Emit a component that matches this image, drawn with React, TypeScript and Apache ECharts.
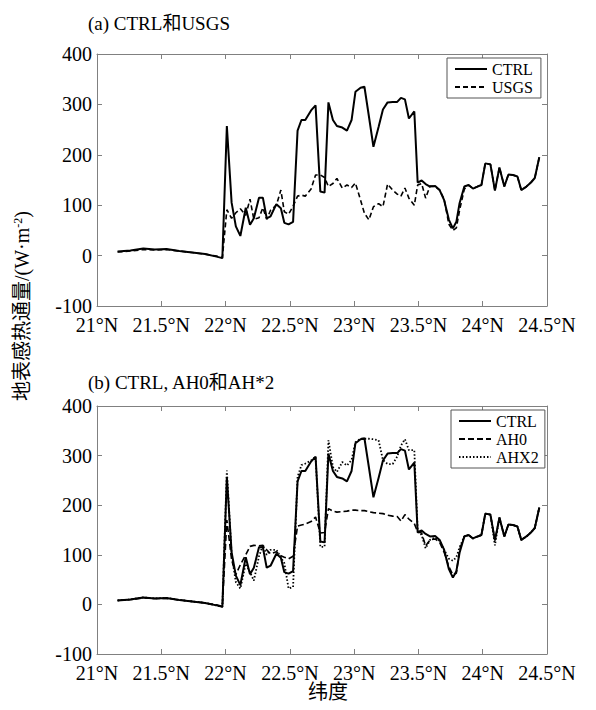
import React, { useEffect, useRef } from "react";
import * as echarts from "echarts";

// Latitude (°N) of each sample point along the transect
const lat = [
  21.16, 21.26, 21.36, 21.45, 21.54, 21.64, 21.74, 21.84, 21.93, 21.975,
  22.01, 22.047, 22.08, 22.115, 22.157, 22.19, 22.22, 22.26, 22.29, 22.32,
  22.35, 22.395, 22.43, 22.457, 22.49, 22.525, 22.56, 22.59, 22.62, 22.665,
  22.7, 22.737, 22.77, 22.8, 22.835, 22.866, 22.908, 22.944, 22.98, 23.01,
  23.05, 23.08, 23.115, 23.15, 23.19, 23.224, 23.26, 23.3, 23.335, 23.364,
  23.395, 23.426, 23.468, 23.494, 23.525, 23.556, 23.59, 23.63, 23.665, 23.7,
  23.737, 23.768, 23.795, 23.82, 23.857, 23.89, 23.924, 23.96, 23.99, 24.02,
  24.06, 24.095, 24.13, 24.168, 24.2, 24.235, 24.27, 24.3, 24.34, 24.375,
  24.405, 24.44,
];

const ctrl = [
  8, 10, 14, 12, 13, 9, 6, 3, -2, -5,
  257, 105, 58, 39, 95, 61, 74, 115, 115, 74,
  78, 102, 94, 65, 62, 67, 248, 269, 269, 288,
  298, 127, 125, 304, 269, 257, 254, 248, 269, 325,
  333, 335, 276, 216, 255, 290, 304, 305, 305, 313,
  310, 272, 286, 145, 149, 142, 137, 138, 130, 110,
  71, 54, 67, 104, 137, 140, 133, 137, 140, 183,
  181, 129, 175, 137, 161, 160, 157, 130, 137, 145,
  154, 195,
];

const usgs = [
  7, 9, 12, 11, 12, 9, 6, 3, -1, -4,
  91, 74, 85, 93, 80, 112, 72, 75, 95, 72,
  90, 100, 130, 87, 82, 98, 118, 120, 118, 132,
  160, 160, 155, 137, 143, 153, 134, 140, 135, 144,
  110, 84, 71, 97, 103, 97, 142, 130, 122, 118,
  134, 114, 100, 140, 143, 114, 138, 137, 130, 112,
  62, 50, 55, 90, 132, 140, 133, 137, 140, 183,
  181, 129, 175, 137, 161, 160, 157, 130, 137, 145,
  154, 195,
];

const ah0 = [
  8, 10, 13, 12, 12, 9, 6, 3, -1, -4,
  170, 90, 60, 80, 100, 117, 119, 118, 119, 110,
  102, 106, 98, 95, 92, 97, 158, 160, 162, 167,
  176, 144, 145, 193, 188, 186, 187, 188, 190, 190,
  189, 189, 187, 185, 184, 183, 180, 178, 177, 168,
  181, 172, 163, 146, 144, 118, 130, 132, 125, 105,
  76, 60, 63, 110, 137, 140, 133, 137, 140, 183,
  181, 129, 175, 137, 161, 160, 157, 130, 137, 145,
  154, 195,
];

const ahx2 = [
  8, 10, 14, 12, 13, 9, 6, 3, -2, -5,
  270, 100, 45, 32, 82, 65, 48, 97, 119, 100,
  110, 110, 95, 83, 32, 35, 257, 281, 284, 290,
  298, 116, 116, 331, 277, 267, 287, 280, 291, 327,
  334, 334, 334, 333, 331, 291, 283, 283, 298, 320,
  333, 311, 311, 150, 140, 113, 130, 135, 128, 110,
  92, 88, 95, 115, 137, 140, 133, 137, 140, 183,
  181, 119, 175, 137, 161, 160, 157, 130, 137, 145,
  154, 195,
];

const panelTitles = ["(a) CTRL和USGS", "(b) CTRL, AH0和AH*2"];
const legendA = ["CTRL", "USGS"];
const legendB = ["CTRL ", "AH0", "AHX2"];

export default function App() {
  const ref = useRef<HTMLDivElement>(null);
  useEffect(() => {
    const chart = echarts.init(ref.current!, null, { renderer: "svg" });
    const font = "'Liberation Serif', 'Noto Sans CJK SC', serif";
    const frame = "#808080";
    const pair = (arr: number[]) => lat.map((x, i) => [x, arr[i]]);
    const grids = [
      { left: 97, top: 54, width: 450, height: 252 },
      { left: 97, top: 406, width: 450, height: 248 },
    ];
    const xAxis: any[] = [];
    const yAxis: any[] = [];
    grids.forEach((_, gi) => {
      const baseX = {
        type: "value",
        gridIndex: gi,
        min: 21,
        max: 24.5,
        interval: 0.5,
        axisLine: { show: true, onZero: false, lineStyle: { color: frame, width: 1 } },
        axisTick: { show: true, inside: true, length: 5, lineStyle: { color: frame } },
        splitLine: { show: false },
      };
      xAxis.push({
        ...baseX,
        position: "bottom",
        axisLabel: {
          formatter: (v: number) => `${v}°N`,
          color: "#000",
          fontFamily: font,
          fontSize: 20,
          margin: 9,
        },
      });
      xAxis.push({ ...baseX, position: "top", axisLabel: { show: false } });
      const baseY = {
        type: "value",
        gridIndex: gi,
        min: -100,
        max: 400,
        interval: 100,
        axisLine: { show: true, onZero: false, lineStyle: { color: frame, width: 1 } },
        axisTick: { show: true, inside: true, length: 5, lineStyle: { color: frame } },
        splitLine: { show: false },
      };
      yAxis.push({
        ...baseY,
        position: "left",
        axisLabel: { color: "#000", fontFamily: font, fontSize: 20, margin: 5 },
      });
      yAxis.push({ ...baseY, position: "right", axisLabel: { show: false } });
    });

    const mk = (name: string, arr: number[], gi: number, type: any, width: number) => ({
      name,
      type: "line",
      xAxisIndex: gi * 2,
      yAxisIndex: gi * 2,
      data: pair(arr),
      symbol: "none",
      lineStyle: { color: "#000", width, type },
      itemStyle: { color: "#000" },
    });

    const legendCommon = {
      orient: "vertical",
      backgroundColor: "#fff",
      borderColor: "#555",
      borderWidth: 1,
      itemWidth: 32,
      itemHeight: 14,
      itemGap: 2,
      itemStyle: { opacity: 0 },
      textStyle: { fontFamily: font, fontSize: 16, color: "#000" },
    };

    chart.setOption({
      animation: false,
      grid: grids,
      xAxis,
      yAxis,
      legend: [
        { ...legendCommon, data: legendA, left: 447, top: 58, padding: [3, 8, 3, 7] },
        { ...legendCommon, data: legendB, left: 451, top: 410, padding: [3, 4, 3, 7] },
      ],
      title: [
        {
          text: panelTitles[0],
          left: 83,
          top: 9,
          textStyle: { fontFamily: font, fontSize: 19, fontWeight: "normal", color: "#000" },
        },
        {
          text: panelTitles[1],
          left: 83,
          top: 368,
          textStyle: { fontFamily: font, fontSize: 19, fontWeight: "normal", color: "#000" },
        },
      ],
      graphic: [
        {
          type: "text",
          x: 22,
          y: 306,
          rotation: Math.PI / 2,
          style: {
            text: "{a|地表感热通量/(W·m}{s|-2}{a|)}",
            rich: {
              a: { fontFamily: font, fontSize: 20, fill: "#000" },
              s: { fontFamily: font, fontSize: 12, fill: "#000", padding: [0, 0, 9, 0] },
            },
            align: "center",
            verticalAlign: "middle",
          },
        },
        {
          type: "text",
          x: 328,
          y: 692,
          style: {
            text: "纬度",
            fontFamily: font,
            fontSize: 20,
            fill: "#000",
            align: "center",
            verticalAlign: "middle",
          },
        },
      ],
      series: [
        mk("CTRL", ctrl, 0, "solid", 2),
        mk("USGS", usgs, 0, [5, 3], 1.6),
        mk("CTRL ", ctrl, 1, "solid", 2),
        mk("AH0", ah0, 1, [6, 3], 1.6),
        mk("AHX2", ahx2, 1, [1.5, 2], 1.8),
      ],
    });
    return () => chart.dispose();
  }, []);
  return (
    <div
      ref={ref}
      style={{ position: "fixed", left: 0, top: 0, width: 596, height: 710, background: "#fff" }}
    />
  );
}
